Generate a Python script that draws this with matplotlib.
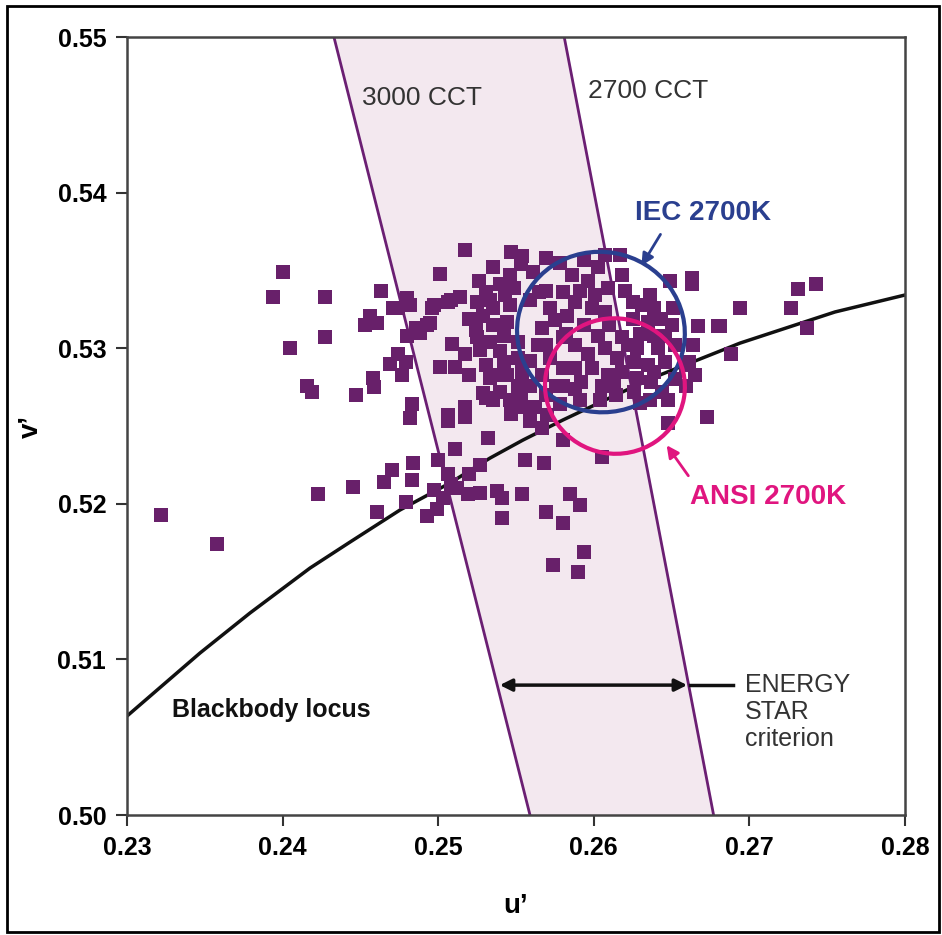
import matplotlib
matplotlib.use("Agg")
import matplotlib.pyplot as plt
from matplotlib.patches import Ellipse, Rectangle

plt.rcParams['font.family'] = ['Liberation Sans', 'DejaVu Sans']

# Measured chromaticity points (u', v')
u_vals = [
    0.2400, 0.2394, 0.2427, 0.2463, 0.2405, 0.2427, 0.2456, 0.2461, 0.2453, 0.2471,
    0.2416, 0.2419, 0.2447, 0.2458, 0.2459, 0.2469, 0.2322, 0.2358, 0.2423, 0.2445,
    0.2465, 0.2470, 0.2461,
    0.2501, 0.2480, 0.2474, 0.2496, 0.2506, 0.2495, 0.2480, 0.2488, 0.2509, 0.2501,
    0.2511, 0.2479, 0.2477, 0.2483, 0.2482, 0.2506, 0.2506, 0.2511, 0.2484, 0.2500,
    0.2483, 0.2497, 0.2493, 0.2503, 0.2508,
    0.2517, 0.2517, 0.2531, 0.2535, 0.2532, 0.2547, 0.2554, 0.2559, 0.2567, 0.2570,
    0.2506, 0.2512, 0.2520, 0.2527, 0.2519, 0.2527, 0.2538, 0.2541, 0.2479, 0.2499,
    0.2554, 0.2541, 0.2568, 0.2569, 0.2574, 0.2556,
    0.2673, 0.2648, 0.2580, 0.2605, 0.2585, 0.2591, 0.2580, 0.2594, 0.2590, 0.2630,
    0.2648,
    0.2694, 0.2681, 0.2688, 0.2731, 0.2743, 0.2727, 0.2737,
    0.2649, 0.2663, 0.2663, 0.2680, 0.2667, 0.2664, 0.2661, 0.2665, 0.2659, 0.2651,
    0.2650, 0.2646, 0.2625, 0.2631, 0.2639, 0.2618, 0.2617, 0.2607, 0.2603, 0.2609,
    0.2596, 0.2586, 0.2580, 0.2588, 0.2599, 0.2607, 0.2625, 0.2635, 0.2639, 0.2583,
    0.2594, 0.2603, 0.2618, 0.2628, 0.2641, 0.2646, 0.2639, 0.2580, 0.2588, 0.2596,
    0.2607, 0.2615, 0.2622, 0.2626, 0.2635, 0.2618, 0.2609, 0.2599, 0.2588, 0.2580,
    0.2592, 0.2605, 0.2613, 0.2628, 0.2637, 0.2644, 0.2626, 0.2588, 0.2580,
    0.2517, 0.2547, 0.2554, 0.2569, 0.2535, 0.2526, 0.2546, 0.2531, 0.2540, 0.2549,
    0.2514, 0.2508, 0.2497, 0.2525, 0.2535, 0.2546, 0.2520, 0.2529, 0.2535, 0.2544,
    0.2493, 0.2486, 0.2525, 0.2533, 0.2542, 0.2551, 0.2540, 0.2531, 0.2542, 0.2551,
    0.2533, 0.2544, 0.2554, 0.2559, 0.2551, 0.2529, 0.2540, 0.2561, 0.2565, 0.2572,
    0.2567, 0.2564, 0.2572, 0.2567, 0.2576, 0.2482, 0.2474,
    0.2559, 0.2569, 0.2575, 0.2582, 0.2591, 0.2601, 0.2610, 0.2620, 0.2630, 0.2636,
    0.2643, 0.2652, 0.2604, 0.2614, 0.2591, 0.2569, 0.2559, 0.2569, 0.2594, 0.2578,
    0.2553, 0.2543, 0.2533, 0.2524, 0.2517, 0.2527, 0.2540, 0.2520, 0.2553, 0.2562,
    0.2546, 0.2578, 0.2636, 0.2652, 0.2659,
]
v_vals = [
    0.5349, 0.5333, 0.5333, 0.5337, 0.5300, 0.5307, 0.5321, 0.5316, 0.5315, 0.5326,
    0.5276, 0.5272, 0.5270, 0.5281, 0.5275, 0.5290, 0.5193, 0.5174, 0.5206, 0.5211,
    0.5214, 0.5222, 0.5195,
    0.5348, 0.5332, 0.5326, 0.5326, 0.5330, 0.5316, 0.5308, 0.5310, 0.5303, 0.5288,
    0.5288, 0.5291, 0.5283, 0.5264, 0.5255, 0.5257, 0.5253, 0.5235, 0.5226, 0.5228,
    0.5215, 0.5209, 0.5192, 0.5204, 0.5213,
    0.5262, 0.5256, 0.5268, 0.5267, 0.5242, 0.5258, 0.5262, 0.5253, 0.5249, 0.5257,
    0.5219, 0.5210, 0.5219, 0.5225, 0.5206, 0.5207, 0.5208, 0.5204, 0.5201, 0.5197,
    0.5206, 0.5191, 0.5226, 0.5195, 0.5161, 0.5228,
    0.5256, 0.5252, 0.5241, 0.5230, 0.5206, 0.5199, 0.5188, 0.5169, 0.5156, 0.5265,
    0.5267,
    0.5326, 0.5314, 0.5296, 0.5338, 0.5341, 0.5326, 0.5313,
    0.5343, 0.5345, 0.5341, 0.5314, 0.5314, 0.5302, 0.5291, 0.5283, 0.5276, 0.5326,
    0.5315, 0.5308, 0.5330, 0.5328, 0.5326, 0.5347, 0.5360, 0.5360, 0.5352, 0.5339,
    0.5343, 0.5347, 0.5336, 0.5330, 0.5326, 0.5323, 0.5319, 0.5317, 0.5308, 0.5321,
    0.5315, 0.5308, 0.5307, 0.5300, 0.5300, 0.5291, 0.5285, 0.5307, 0.5302, 0.5296,
    0.5300, 0.5294, 0.5302, 0.5291, 0.5289, 0.5285, 0.5283, 0.5287, 0.5287, 0.5287,
    0.5278, 0.5276, 0.5278, 0.5281, 0.5278, 0.5272, 0.5272, 0.5274, 0.5276,
    0.5363, 0.5362, 0.5359, 0.5358, 0.5352, 0.5343, 0.5347, 0.5336, 0.5341, 0.5339,
    0.5333, 0.5331, 0.5328, 0.5330, 0.5326, 0.5328, 0.5319, 0.5321, 0.5315, 0.5317,
    0.5315, 0.5313, 0.5307, 0.5304, 0.5308, 0.5304, 0.5298, 0.5289, 0.5291, 0.5294,
    0.5281, 0.5283, 0.5285, 0.5276, 0.5276, 0.5271, 0.5272, 0.5349, 0.5336, 0.5326,
    0.5313, 0.5302, 0.5294, 0.5283, 0.5276, 0.5328, 0.5296,
    0.5331, 0.5337, 0.5318, 0.5309, 0.5337, 0.5334, 0.5315, 0.5337, 0.5309, 0.5334,
    0.5319, 0.5302, 0.5267, 0.5270, 0.5267, 0.5270, 0.5292, 0.5302, 0.5357, 0.5355,
    0.5354, 0.5334, 0.5331, 0.5312, 0.5296, 0.5299, 0.5283, 0.5283, 0.5270, 0.5262,
    0.5267, 0.5264, 0.5267, 0.5280, 0.5289,
]

# Blackbody locus
locus_u = [0.2300, 0.23469, 0.23790, 0.24176, 0.24433, 0.24754, 0.25076, 0.25333,
           0.25545, 0.25802, 0.26168, 0.26425, 0.26779, 0.26940, 0.27550, 0.2800]
locus_v = [0.50636, 0.51041, 0.51298, 0.51587, 0.51754, 0.51960, 0.52134, 0.52294,
           0.52410, 0.52539, 0.52712, 0.52828, 0.52969, 0.53033, 0.53233, 0.53342]

# CCT lines (bottom, top)
cct_v = [0.50, 0.55]
cct3000_u = [0.2559, 0.2433]
cct2700_u = [0.2677, 0.2581]

# Tolerance ellipses: centre u, centre v, width, height
iec_ellipse = (0.26046, 0.53104, 0.0108, 0.0103)
ansi_ellipse = (0.26136, 0.52757, 0.0090, 0.0087)

purple = '#68206a'
gray_txt = '#333333'
blue = '#2a3f8f'
pink = '#e0157f'

fig = plt.figure(figsize=(9.42, 9.35), dpi=100)
ax = fig.add_axes([0.1348, 0.1283, 0.8259, 0.8321])

ax.fill_betweenx(cct_v, cct3000_u, cct2700_u, color='#f3e8ef', zorder=0)
ax.plot(cct3000_u, cct_v, color='#6b1f73', lw=2, zorder=1)
ax.plot(cct2700_u, cct_v, color='#6b1f73', lw=2, zorder=1)

ax.plot(locus_u, locus_v, color='#111111', lw=2.5, zorder=2, solid_joinstyle='round')
ax.scatter(u_vals, v_vals, marker='s', s=105, color=purple, linewidths=0, zorder=3)

for (cu, cv, w, h), col in [(iec_ellipse, blue), (ansi_ellipse, pink)]:
    ax.add_patch(Ellipse((cu, cv), w, h, angle=-10, fill=False, edgecolor=col, lw=3, zorder=4))

ax.text(0.2451, 0.5461, '3000 CCT', fontsize=19, color=gray_txt, va='center')
ax.text(0.2596, 0.5465, '2700 CCT', fontsize=19, color=gray_txt, va='center')
ax.text(0.26265, 0.5387, 'IEC 2700K', fontsize=20, color=blue, fontweight='bold', va='center')
ax.annotate('', xy=(0.26297, 0.53515), xytext=(0.26438, 0.53747),
            arrowprops=dict(arrowstyle='-|>', color=blue, lw=2, mutation_scale=18), zorder=5)
ax.text(0.26618, 0.52044, 'ANSI 2700K', fontsize=20, color=pink, fontweight='bold', va='center')
ax.annotate('', xy=(0.26458, 0.52391), xytext=(0.26618, 0.52166),
            arrowprops=dict(arrowstyle='-|>', color=pink, lw=2, mutation_scale=18), zorder=5)
ax.text(0.23289, 0.50675, 'Blackbody locus', fontsize=18, fontweight='bold', color='#111111', va='center')

ax.annotate('', xy=(0.25378, 0.50835), xytext=(0.26618, 0.50835),
            arrowprops=dict(arrowstyle='<|-|>', color='#111111', lw=2.5, mutation_scale=18), zorder=5)
ax.plot([0.26618, 0.26895], [0.50835, 0.50835], color='#111111', lw=2.5, zorder=5)
ax.text(0.26972, 0.50913, 'ENERGY\nSTAR\ncriterion', fontsize=18, color=gray_txt,
        va='top', linespacing=1.15)

ax.set_xlim(0.23, 0.28)
ax.set_ylim(0.50, 0.55)
ax.set_xticks([0.23, 0.24, 0.25, 0.26, 0.27, 0.28])
ax.set_yticks([0.50, 0.51, 0.52, 0.53, 0.54, 0.55])
ax.set_xticklabels(['0.23', '0.24', '0.25', '0.26', '0.27', '0.28'])
ax.set_yticklabels(['0.50', '0.51', '0.52', '0.53', '0.54', '0.55'])
ax.tick_params(direction='out', length=8, width=1.5, color='#333333', labelsize=18, pad=7)
for lab in ax.get_xticklabels() + ax.get_yticklabels():
    lab.set_fontweight('bold')
for sp in ax.spines.values():
    sp.set_color('#444444')
    sp.set_linewidth(1.8)

ax.set_xlabel('u\u2019', fontsize=20, fontweight='bold', labelpad=24)
ax.set_ylabel('v\u2019', fontsize=20, fontweight='bold', labelpad=10)

fig.patches.append(Rectangle((0.007, 0.003), 0.99, 0.991, transform=fig.transFigure,
                             fill=False, edgecolor='black', lw=2))

fig.savefig('out.png', dpi=100)
